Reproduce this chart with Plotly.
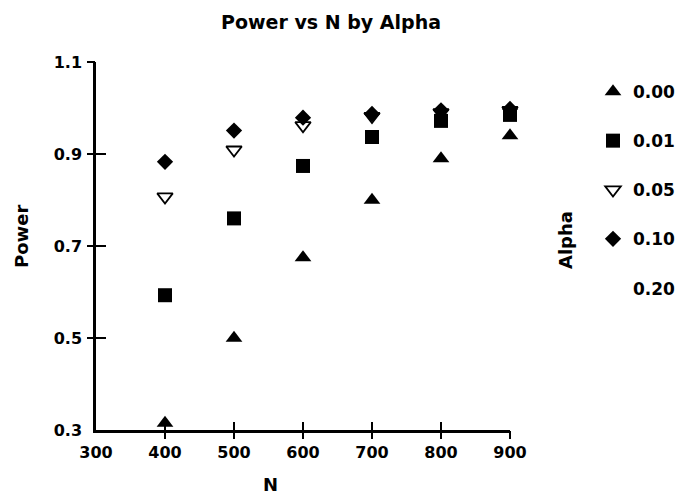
import plotly.graph_objects as go

N = [400, 500, 600, 700, 800, 900]
alpha_labels = ["0.00", "0.01", "0.05", "0.10", "0.20"]
power_000 = [0.315, 0.50, 0.675, 0.80, 0.89, 0.94]
power_001 = [0.593, 0.76, 0.874, 0.937, 0.972, 0.985]
power_005 = [0.807, 0.909, 0.962, 0.982, 0.99, 0.995]
power_010 = [0.883, 0.951, 0.979, 0.987, 0.995, 0.998]
power_020 = [None]
x_ticks = [300, 400, 500, 600, 700, 800, 900]
y_ticks = [0.3, 0.5, 0.7, 0.9, 1.1]

FONT = "DejaVu Sans, Verdana, sans-serif"

# (name, x, y, marker, axes)
series = [
    (alpha_labels[0], N, power_000, dict(symbol="triangle-up", size=14.5, color="black"), ("x", "y")),
    (alpha_labels[1], N, power_001, dict(symbol="square", size=14, color="black"), ("x", "y")),
    (alpha_labels[2], N, power_005, dict(symbol="triangle-down-open", size=13.5, color="black",
                                         line=dict(width=1.8, color="black")), ("x2", "y2")),
    (alpha_labels[3], N, power_010, dict(symbol="diamond", size=12.5, color="black"), ("x3", "y3")),
    (alpha_labels[4], [None], power_020, dict(symbol="circle", size=1, color="rgba(0,0,0,0)"), ("x", "y")),
]

fig = go.Figure()
for i, (name, xs, ys, mk, (xa, ya)) in enumerate(series):
    fig.add_trace(go.Scatter(x=xs, y=ys, mode="markers", name=name, marker=mk,
                             xaxis=xa, yaxis=ya, cliponaxis=False,
                             legendgroup=str(i), showlegend=True))

L, R, T, B = 96, 510, 62, 430
W, H = 678, 496


def px(x):
    return (x - L) / (R - L)


def py(y):
    return (B - y) / (B - T)


tickfont = dict(family=FONT, size=16, color="black", weight="bold")
plain = dict(showgrid=False, zeroline=False)
tick_only = dict(showticklabels=False, showline=False, tickcolor="black", tickwidth=2, **plain)

fig.update_layout(
    width=W, height=H,
    paper_bgcolor="white", plot_bgcolor="white",
    margin=dict(l=L, r=W - R, t=T, b=H - B, autoexpand=False),
    showlegend=True,
    title=dict(text="Power vs N by Alpha", x=331 / W, xanchor="center", y=1 - 22 / H, yanchor="middle",
               xref="container", yref="container",
               font=dict(family=FONT, size=19, color="black", weight="bold")),
    legend=dict(x=593 / W, xanchor="left", xref="container", y=1 - 74 / H, yref="container", yanchor="top",
                font=dict(family=FONT, size=17, color="black", weight="bold"), tracegroupgap=24,
                bgcolor="rgba(0,0,0,0)"),
    xaxis=dict(range=[300, 900], tickvals=x_ticks, ticks="", showline=True, linecolor="black",
               linewidth=2.5, tickfont=tickfont, ticklabelstandoff=6, **plain),
    yaxis=dict(range=[0.3, 1.1], tickvals=y_ticks, ticks="", showline=True, linecolor="black",
               linewidth=2.5, tickformat=".1f", tickfont=tickfont, ticklabelstandoff=8, **plain),
    xaxis2=dict(range=[300, 900], overlaying="x", anchor="y", tickvals=x_ticks[1:], ticks="outside",
                ticklen=8, **tick_only),
    yaxis2=dict(range=[0.3, 1.1], overlaying="y", anchor="x", tickvals=y_ticks[1:], ticks="outside",
                ticklen=8, **tick_only),
    xaxis3=dict(range=[300, 900], overlaying="x", anchor="y", tickvals=x_ticks[1:], ticks="inside",
                ticklen=8, **tick_only),
    yaxis3=dict(range=[0.3, 1.1], overlaying="y", anchor="x", tickvals=y_ticks[1:], ticks="inside",
                ticklen=10, **tick_only),
    annotations=[
        dict(text="Power", x=px(22), y=py(237), xref="paper", yref="paper",
             xanchor="center", yanchor="middle", textangle=-90, showarrow=False,
             font=dict(family=FONT, size=18, color="black", weight="bold")),
        dict(text="N", x=px(270), y=py(484), xref="paper", yref="paper",
             xanchor="center", yanchor="middle", showarrow=False,
             font=dict(family=FONT, size=18, color="black", weight="bold")),
        dict(text="Alpha", x=px(565), y=py(240), xref="paper", yref="paper",
             xanchor="center", yanchor="middle", textangle=-90, showarrow=False,
             font=dict(family=FONT, size=18, color="black", weight="bold")),
    ],
)

fig.write_html("out.html")
